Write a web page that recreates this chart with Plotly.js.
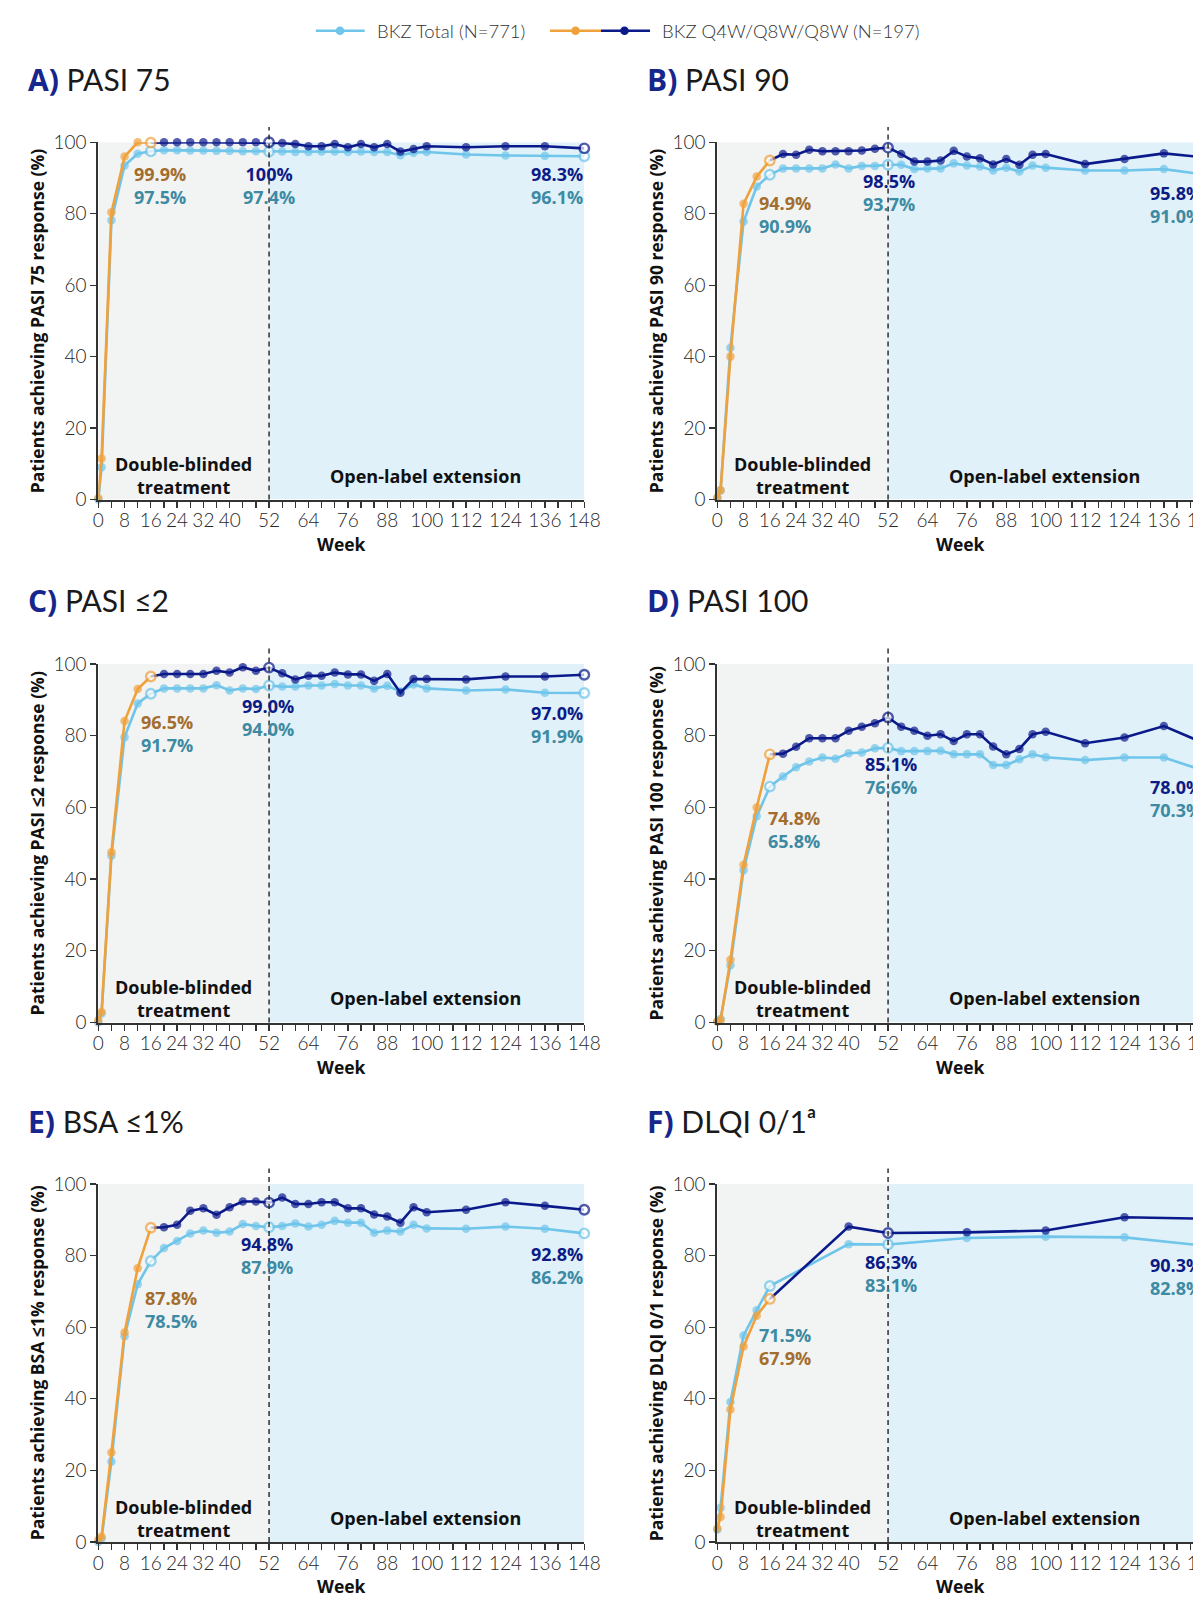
<!DOCTYPE html>
<html><head><meta charset="utf-8">
<script src="https://cdn.plot.ly/plotly-3.0.1.min.js"></script>
<style>html,body{margin:0;padding:0;overflow:hidden;background:#fff}#chart{width:1230px;height:1598px}</style>
</head><body><div id="chart"></div><script>
// ---------------- DATA ----------------
const weeksAll = [0,1,4,8,12,16,20,24,28,32,36,40,44,48,52,56,60,64,68,72,76,80,84,88,92,96,100,112,124,136,148];
const weeksDB = [0,1,4,8,12,16];
const weeksMaint = [16,20,24,28,32,36,40,44,48,52,56,60,64,68,72,76,80,84,88,92,96,100,112,124,136,148];
const weeksF = [0,1,4,8,12,16,40,52,76,100,124,148];
const weeksFMaint = [16,40,52,76,100,124,148];
const tickWeeks = [0,4,8,12,16,20,24,28,32,36,40,44,48,52,56,60,64,68,72,76,80,84,88,92,96,100,104,108,112,116,120,124,128,132,136,140,144,148];
const labeledWeeks = [0,8,16,24,32,40,52,64,76,88,100,112,124,136,148];
const yTicks = [0,20,40,60,80,100];

const A_total = [0,9,78.2,93.5,96.8,97.5,97.8,97.8,97.7,97.7,97.6,97.6,97.5,97.5,97.4,97.4,97.3,97.3,97.4,97.4,97.3,97.4,97.3,97.3,96.4,97.1,97.3,96.6,96.3,96.2,96.1];
const A_orange = [0.4,11.5,80.4,96.0,100,99.9];
const A_maint = [99.9,100,100,100,100,100,100,100,100,100,99.8,99.5,98.9,98.9,99.5,98.6,99.5,98.6,99.5,97.4,98.1,98.9,98.6,98.9,98.9,98.3];

const B_total = [0.5,2.5,42.5,77.8,87.6,90.9,92.7,92.7,92.7,92.7,93.8,92.7,93.4,93.4,93.7,93.7,92.5,92.7,92.7,94.1,93.5,93.2,92.1,92.9,91.8,93.5,92.9,92.1,92.1,92.5,91.0];
const B_orange = [0.5,2.6,40.0,82.8,90.4,94.9];
const B_maint = [94.9,96.7,96.5,97.9,97.5,97.5,97.5,97.7,98.2,98.5,96.7,94.6,94.6,94.9,97.6,96.0,95.5,93.8,95.3,93.7,96.5,96.7,93.9,95.3,96.9,95.8];

const C_total = [0,2.5,46.5,79.6,89.0,91.7,93.2,93.2,93.2,93.2,94.1,92.6,93.2,93.0,94.0,93.7,93.7,94.0,94.0,94.4,94.0,94.0,93.2,93.9,92.3,94.3,93.2,92.6,92.9,92.0,91.9];
const C_orange = [0.7,2.9,47.5,84.1,93.0,96.5];
const C_maint = [96.5,97.2,97.2,97.2,97.2,98.1,97.6,99.1,98.1,99.0,97.4,95.7,96.7,96.7,97.6,97.1,97.1,95.3,97.2,92.0,95.8,95.8,95.7,96.5,96.5,97.0];

const D_total = [0.3,1.0,16.0,42.5,57.5,65.8,68.6,71.2,72.8,73.9,73.6,75.1,75.3,76.5,76.6,75.7,75.7,75.7,75.8,74.8,74.8,74.8,71.8,71.8,73.4,74.8,74.0,73.2,73.9,73.9,70.3];
const D_orange = [0.3,0.6,17.5,44.0,60.0,74.8];
const D_maint = [74.8,75.0,76.9,79.3,79.3,79.3,81.4,82.5,83.5,85.1,82.5,81.4,80.0,80.4,78.5,80.4,80.4,77.0,74.8,76.3,80.4,81.1,77.9,79.5,82.7,78.0];

const E_total = [0,1.0,22.5,57.5,72.0,78.5,82.1,84.1,86.2,87.0,86.4,86.7,88.8,88.3,87.9,88.3,89.0,88.1,88.6,89.7,89.2,89.2,86.4,87.0,86.7,88.6,87.6,87.5,88.1,87.5,86.2];
const E_orange = [0.6,1.5,25.0,58.5,76.5,87.8];
const E_maint = [87.8,87.9,88.6,92.5,93.2,91.4,93.5,95.1,95.1,94.8,96.2,94.4,94.4,94.9,94.9,93.2,93.2,91.5,90.9,89.2,93.5,92.1,92.8,94.9,93.9,92.8];

const F_total = [3.5,9.6,39.1,57.7,64.7,71.5,83.2,83.1,84.9,85.3,85.1,82.8];
const F_orange = [3.8,7.0,37.0,54.6,63.2,67.9];
const F_maint = [67.9,88.1,86.3,86.5,87.0,90.7,90.3];

const labelsA = ['99.9%','97.5%','100%','97.4%','98.3%','96.1%'];
const labelsB = ['94.9%','90.9%','98.5%','93.7%','95.8%','91.0%'];
const labelsC = ['96.5%','91.7%','99.0%','94.0%','97.0%','91.9%'];
const labelsD = ['74.8%','65.8%','85.1%','76.6%','78.0%','70.3%'];
const labelsE = ['87.8%','78.5%','94.8%','87.9%','92.8%','86.2%'];
const labelsF = ['71.5%','67.9%','86.3%','83.1%','90.3%','82.8%'];

const panelLetters = ['A)','B)','C)','D)','E)','F)'];
const panelNames = ['PASI 75','PASI 90','PASI \u22642','PASI 100','BSA \u22641%','DLQI 0/1<span style="font-size:33px">\u1d43</span>'];
const yTitles = ['Patients achieving PASI 75 response (%)','Patients achieving PASI 90 response (%)','Patients achieving PASI \u22642 response (%)','Patients achieving PASI 100 response (%)','Patients achieving BSA \u22641% response (%)','Patients achieving DLQI 0/1 response (%)'];
const legendNames = ['BKZ Total (N=771)','BKZ Q4W/Q8W/Q8W (N=197)'];
const phaseNames = ['Double-blinded<br>treatment','Open-label extension'];

// ---------------- STYLE ----------------
const W = 1230, H = 1598;
const FONT = '"Open Sans", "Noto Sans", sans-serif';
const LFONT = 'Lato, "Open Sans", sans-serif';
const C_LB = '#6fc5ea', C_OR = '#f0a13b', C_NV = '#0b1a8a';
const T_BR = '#a36d2d', T_TE = '#3d8aa2', T_NV = '#0d1b86';
const BG_G = '#f2f3f3', BG_B = '#e0f1f9';
const hollowWeeks = [16,52,148];
const cols = [[98.3,584.3],[717.3,1203.3]];
const rows = [[142.3,499.5],[664,1022.5],[1184,1542]];

const panels = [
  {total:A_total, orange:A_orange, maint:A_maint, wT:weeksAll, wM:weeksMaint, labels:labelsA, lpos:[[18.7,90.8,85.0],[52,90.8,85.0],[148,90.8,85.0]], leftCol:[T_BR,T_TE]},
  {total:B_total, orange:B_orange, maint:B_maint, wT:weeksAll, wM:weeksMaint, labels:labelsB, lpos:[[20.6,82.7,76.9],[52.4,88.7,83.1],[148,85.3,79.7]], leftCol:[T_BR,T_TE]},
  {total:C_total, orange:C_orange, maint:C_maint, wT:weeksAll, wM:weeksMaint, labels:labelsC, lpos:[[20.8,83.3,77.9],[51.7,87.8,82.1],[148,86.3,80.2]], leftCol:[T_BR,T_TE]},
  {total:D_total, orange:D_orange, maint:D_maint, wT:weeksAll, wM:weeksMaint, labels:labelsD, lpos:[[23.3,56.5,51.1],[52.8,71.6,66.0],[148,65.3,59.5]], leftCol:[T_BR,T_TE]},
  {total:E_total, orange:E_orange, maint:E_maint, wT:weeksAll, wM:weeksMaint, labels:labelsE, lpos:[[22.0,67.7,62.1],[51.5,82.8,77.4],[148,80.2,74.4]], leftCol:[T_BR,T_TE]},
  {total:F_total, orange:F_orange, maint:F_maint, wT:weeksF, wM:weeksFMaint, labels:labelsF, lpos:[[20.7,57.3,51.8],[52.8,77.9,72.1],[148,77.1,71.4]], leftCol:[T_TE,T_BR]}
];

function markerStyle(weeks, color, hideFirst) {
  const size = [], fill = [], lw = [];
  weeks.forEach((w, k) => {
    if (hideFirst && k === 0) { size.push(0); fill.push(color); lw.push(0); return; }
    const hollow = hollowWeeks.includes(w);
    size.push(hollow ? 9.5 : 8.5);
    fill.push(hollow ? '#ffffff' : color);
    lw.push(hollow ? 2.4 : 0);
  });
  return {size: size, color: fill, line: {color: color, width: lw}};
}

const traces = [];
const layout = {
  width: W, height: H, margin: {l:0, r:0, t:0, b:0},
  paper_bgcolor: '#ffffff', plot_bgcolor: 'rgba(0,0,0,0)', showlegend: false,
  font: {family: FONT, color: '#222'},
  shapes: [], annotations: []
};
const tickText = tickWeeks.map(w => labeledWeeks.includes(w) ? String(w) : '');
const TICKFONT = {size: 19, color: '#262626', family: LFONT, weight: 300};

panels.forEach((p, i) => {
  const r = rows[Math.floor(i / 2)], c = cols[i % 2];
  const xid = i === 0 ? 'x' : 'x' + (i + 1);
  const yid = i === 0 ? 'y' : 'y' + (i + 1);
  const xkey = i === 0 ? 'xaxis' : 'xaxis' + (i + 1);
  const ykey = i === 0 ? 'yaxis' : 'yaxis' + (i + 1);
  layout[xkey] = {
    domain: [c[0] / W, c[1] / W], anchor: yid, range: [0, 148],
    tickmode: 'array', tickvals: tickWeeks, ticktext: tickText,
    ticks: 'outside', ticklen: 6, tickwidth: 1.3, tickcolor: '#333',
    showline: true, linecolor: '#333', linewidth: 2, showgrid: false, zeroline: false,
    tickfont: TICKFONT, ticklabelstandoff: -3, fixedrange: true
  };
  layout[ykey] = {
    domain: [1 - r[1] / H, 1 - r[0] / H], anchor: xid, range: [0, 100],
    tickmode: 'array', tickvals: yTicks,
    ticks: 'outside', ticklen: 6, tickwidth: 1.3, tickcolor: '#333',
    showline: true, linecolor: '#333', linewidth: 2, showgrid: false, zeroline: false,
    tickfont: TICKFONT, fixedrange: true
  };
  // backgrounds + dashed boundary
  layout.shapes.push({type:'rect', xref:xid, yref:yid, x0:0, x1:52, y0:0, y1:100, fillcolor:BG_G, line:{width:0}, layer:'below'});
  layout.shapes.push({type:'rect', xref:xid, yref:yid, x0:52, x1:148, y0:0, y1:100, fillcolor:BG_B, line:{width:0}, layer:'below'});
  layout.shapes.push({type:'line', xref:xid, yref:yid + ' domain', x0:52, x1:52, y0:0, y1:1.043, line:{color:'#222', width:1.4, dash:'5px,4px'}, layer:'above'});

  // traces
  const common = {type:'scatter', mode:'lines+markers', xaxis:xid, yaxis:yid, cliponaxis:false, hoverinfo:'skip', showlegend:false};
  traces.push(Object.assign({}, common, {x:p.wT, y:p.total, line:{color:C_LB, width:2.6}, marker:markerStyle(p.wT, C_LB, false)}));
  traces.push(Object.assign({}, common, {x:p.wM, y:p.maint, line:{color:C_NV, width:2.6}, marker:markerStyle(p.wM, C_NV, true)}));
  traces.push(Object.assign({}, common, {x:weeksDB, y:p.orange, line:{color:C_OR, width:2.6}, marker:markerStyle(weeksDB, C_OR, false)}));

  // value labels (two coloured lines in one text)
  const colorsByGroup = [p.leftCol, [T_NV, T_TE], [T_NV, T_TE]];
  p.lpos.forEach((pos, g) => {
    const txt = '<span style="color:' + colorsByGroup[g][0] + '"><b>' + p.labels[g * 2] + '</b></span><br>' +
                '<span style="color:' + colorsByGroup[g][1] + '"><b>' + p.labels[g * 2 + 1] + '</b></span>';
    layout.annotations.push({xref:xid, yref:yid, x:pos[0], y:(pos[1] + pos[2]) / 2, xanchor: g === 2 ? 'right' : 'center', yanchor:'middle',
      align: g === 2 ? 'right' : 'center', text:txt, showarrow:false, borderpad:0, font:{size:18, family:FONT}});
  });
  // phase labels
  layout.annotations.push({xref:xid, yref:yid, x:25.8, y:6.6, xanchor:'center', yanchor:'middle', text:'<b>' + phaseNames[0] + '</b>', showarrow:false, borderpad:0, font:{size:18, color:'#111', family:FONT}});
  layout.annotations.push({xref:xid, yref:yid, x:99.7, y:6.7, xanchor:'center', yanchor:'middle', text:'<b>' + phaseNames[1] + '</b>', showarrow:false, borderpad:0, font:{size:18, color:'#111', family:FONT}});

  // panel title (baseline-anchored so every title sits on the same line)
  layout.annotations.push({xref:'paper', yref:'paper', x:(c[0] - 72) / W, y:1 - (r[0] - 63) / H, xanchor:'left', yanchor:'middle',
    text:'<span style="color:#16268c;font-family:\'Open Sans\'"><b>' + panelLetters[i] + '</b></span> ' + panelNames[i], showarrow:false, font:{size:30, color:'#1a1a1a', family:LFONT}});
  // y title
  layout.annotations.push({xref:'paper', yref:'paper', x:(c[0] - 61) / W, y:1 - ((r[0] + r[1]) / 2) / H, xanchor:'center', yanchor:'middle', textangle:-90,
    text:'<b>' + yTitles[i] + '</b>', showarrow:false, font:{size:17.5, color:'#111', family:FONT}});
  // x title
  layout.annotations.push({xref:'paper', yref:'paper', x:((c[0] + c[1]) / 2) / W, y:1 - (r[1] + 44) / H, xanchor:'center', yanchor:'middle',
    text:'<b>Week</b>', showarrow:false, font:{size:17.5, color:'#111', family:FONT}});
});

// ---------------- LEGEND (drawn) ----------------
const LY = 30.7;
function pline(x0, x1, color) {
  layout.shapes.push({type:'line', xref:'paper', yref:'paper', x0:x0 / W, x1:x1 / W, y0:1 - LY / H, y1:1 - LY / H, line:{color:color, width:2.6}});
}
function pdot(cx, color) {
  const rr = 4.3;
  layout.shapes.push({type:'circle', xref:'paper', yref:'paper', x0:(cx - rr) / W, x1:(cx + rr) / W, y0:1 - (LY + rr) / H, y1:1 - (LY - rr) / H, fillcolor:color, line:{width:0}});
}
pline(315.8, 364.7, C_LB); pdot(340, C_LB);
pline(550, 601, C_OR); pdot(575.5, C_OR);
pline(601, 650, C_NV); pdot(624.5, C_NV);
layout.annotations.push({xref:'paper', yref:'paper', x:375 / W, y:1 - LY / H, xanchor:'left', yanchor:'middle', text:legendNames[0], showarrow:false, font:{size:18.5, color:'#333', family:LFONT, weight:300}});
layout.annotations.push({xref:'paper', yref:'paper', x:660 / W, y:1 - LY / H, xanchor:'left', yanchor:'middle', text:legendNames[1], showarrow:false, font:{size:18.5, color:'#333', family:LFONT, weight:300}});

Plotly.newPlot('chart', traces, layout, {staticPlot:true, displayModeBar:false});
</script></body></html>
